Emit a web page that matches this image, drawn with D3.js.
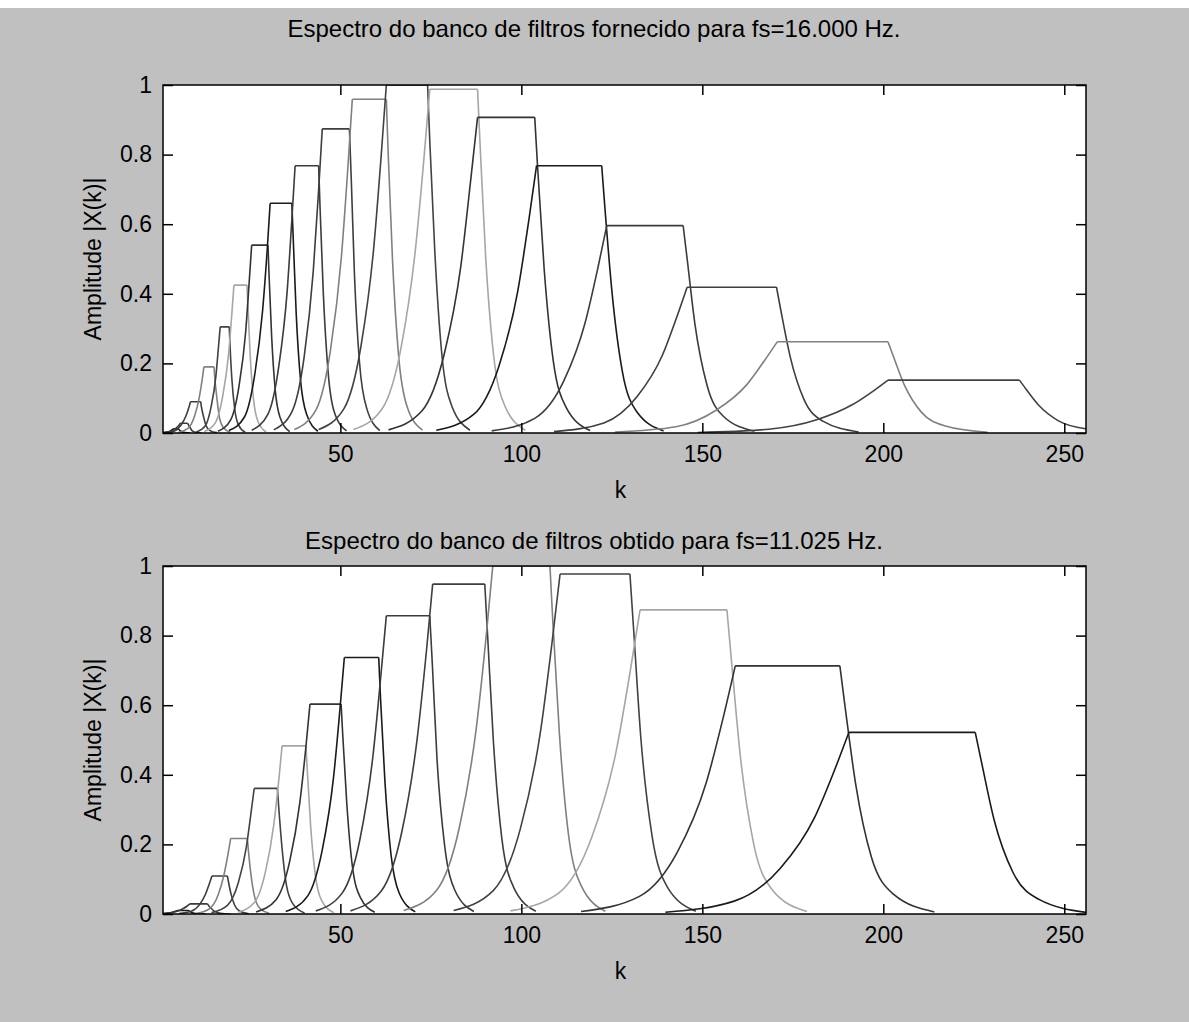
<!DOCTYPE html>
<html>
<head>
<meta charset="utf-8">
<script src="https://cdn.jsdelivr.net/npm/d3@7"></script>
<style>
  body { margin: 0; background: #c0c0c0; }
  text { font-family: "Liberation Sans", Arial, sans-serif; fill: #000; }
</style>
</head>
<body>
<div id="fig"></div>
<script>
// titles and tick labels
var titleTop = "Espectro do banco de filtros fornecido para fs=16.000 Hz.";
var titleBottom = "Espectro do banco de filtros obtido para fs=11.025 Hz.";
var yLabel = "Amplitude |X(k)|";
var xLabel = "k";
var xTicks = [50, 100, 150, 200, 250];
var yTicks = [0, 0.2, 0.4, 0.6, 0.8, 1];

// line colours, cycled like a plot() colour order (printed in gray)
var colorOrder = ["#1a1a1a", "#3c3c3c", "#3e3e3e", "#808080", "#424242", "#a6a6a6", "#333333"];

// filter spectra: [k, |X(k)|]
var filtersFornecido = [
  [[1.0,0.001],[2.2,0.003],[3.1,0.006],[3.6,0.010],[4.0,0.012],[5.2,0.012],[5.4,0.010],[5.8,0.006],[6.3,0.003],[7.1,0.001],[8.5,0]],
  [[1.0,0.0005],[2.1,0.002],[3.6,0.007],[4.7,0.015],[5.4,0.022],[5.8,0.028],[7.8,0.028],[8.0,0.024],[8.5,0.015],[9.1,0.006],[10.0,0.002],[11.7,0]],
  [[1.6,0.001],[4.2,0.006],[6.0,0.023],[7.3,0.048],[8.1,0.072],[8.6,0.09],[11.4,0.09],[11.6,0.076],[12.2,0.047],[12.9,0.021],[14.0,0.007],[15.9,0.001]],
  [[5.3,0.002],[7.9,0.013],[9.7,0.048],[11.0,0.101],[11.8,0.152],[12.3,0.19],[15.1,0.19],[15.3,0.160],[15.9,0.099],[16.6,0.044],[17.7,0.015],[19.6,0.002]],
  [[10.2,0.003],[12.7,0.021],[14.3,0.076],[15.6,0.162],[16.3,0.244],[16.8,0.305],[19.3,0.305],[19.5,0.256],[20.0,0.159],[20.8,0.070],[21.8,0.024],[23.7,0.002]],
  [[12.4,0.004],[15.5,0.030],[17.5,0.106],[19.1,0.225],[20.0,0.34],[20.6,0.425],[24.2,0.425],[24.5,0.357],[25.1,0.221],[26.0,0.098],[27.2,0.034],[29.5,0.003]],
  [[16.2,0.005],[19.7,0.038],[22.0,0.135],[23.8,0.286],[24.8,0.432],[25.5,0.54],[30.0,0.54],[30.3,0.454],[31.0,0.281],[32.0,0.124],[33.4,0.043],[36.0,0.004]],
  [[19.2,0.007],[23.5,0.046],[26.3,0.165],[28.5,0.35],[29.8,0.528],[30.6,0.66],[36.6,0.66],[37.0,0.554],[37.8,0.343],[39.0,0.152],[40.7,0.053],[43.8,0.005]],
  [[25.5,0.008],[30.0,0.054],[33.0,0.192],[35.3,0.407],[36.6,0.614],[37.5,0.768],[44.0,0.768],[44.4,0.645],[45.3,0.399],[46.6,0.177],[48.3,0.061],[51.7,0.006]],
  [[31.6,0.009],[36.6,0.061],[40.0,0.219],[42.5,0.463],[44.0,0.699],[45.0,0.874],[52.5,0.874],[53.0,0.734],[53.9,0.454],[55.3,0.201],[57.3,0.070],[60.9,0.007]],
  [[37.3,0.010],[43.3,0.067],[47.3,0.240],[50.3,0.508],[52.1,0.767],[53.3,0.959],[62.7,0.959],[63.2,0.806],[64.4,0.499],[66.1,0.221],[68.4,0.077],[72.7,0.008]],
  [[44.0,0.01],[51.0,0.07],[55.7,0.25],[59.2,0.53],[61.3,0.8],[62.7,1.0],[74.1,1.0],[74.7,0.84],[76.1,0.52],[78.0,0.23],[80.7,0.08],[85.8,0.008]],
  [[53.6,0.010],[61.5,0.069],[66.8,0.247],[70.7,0.524],[73.1,0.790],[74.7,0.988],[87.9,0.988],[88.6,0.830],[90.1,0.514],[92.3,0.227],[95.4,0.079],[101.1,0.008]],
  [[63.3,0.009],[72.5,0.063],[78.7,0.227],[83.3,0.481],[86.0,0.726],[87.9,0.907],[103.7,0.907],[104.5,0.762],[106.3,0.472],[108.8,0.209],[112.4,0.073],[119.0,0.007]],
  [[76.5,0.008],[86.9,0.054],[93.8,0.192],[99.0,0.407],[102.1,0.614],[104.2,0.768],[122.2,0.768],[123.1,0.645],[125.1,0.399],[127.9,0.177],[131.9,0.061],[139.3,0.006]],
  [[91.8,0.006],[103.7,0.042],[111.7,0.149],[117.6,0.316],[121.2,0.477],[123.6,0.596],[144.7,0.596],[145.8,0.501],[148.0,0.310],[151.3,0.137],[155.8,0.048],[164.4,0.005]],
  [[109.0,0.004],[122.8,0.029],[132.0,0.105],[138.9,0.222],[143.0,0.335],[145.8,0.419],[170.5,0.419],[171.7,0.352],[174.3,0.218],[178.1,0.096],[183.3,0.034],[193.2,0.003]],
  [[125.9,0.003],[142.7,0.018],[153.9,0.066],[162.3,0.139],[167.3,0.21],[170.7,0.262],[201.3,0.262],[202.8,0.220],[205.9,0.136],[210.5,0.060],[216.9,0.021],[228.8,0.002]],
  [[148.7,0.0015],[168.4,0.011],[181.6,0.038],[191.4,0.081],[197.4,0.122],[201.3,0.152],[237.6,0.152],[239.3,0.128],[243.0,0.079],[248.4,0.035],[255.9,0.012],[269.6,0.001]]
];

var filtersObtido = [
  [[1.0,0.001],[2.2,0.0025],[3.6,0.0053],[4.45,0.008],[5.0,0.01],[8.0,0.01],[8.3,0.0084],[8.8,0.0052],[9.6,0.0023],[10.7,0.0008],[12.8,0]],
  [[1.0,0.001],[2.2,0.002],[4.7,0.007],[6.5,0.015],[7.7,0.023],[8.4,0.029],[13.3,0.029],[13.6,0.024],[14.4,0.015],[15.4,0.0067],[16.9,0.0023],[19.6,0.0002]],
  [[5.4,0.001],[8.8,0.0076],[11.1,0.027],[12.8,0.058],[13.8,0.087],[14.5,0.109],[18.8,0.109],[19.1,0.092],[19.8,0.057],[20.8,0.025],[22.1,0.0087],[24.7,0.0009]],
  [[10.3,0.002],[13.8,0.015],[16.2,0.054],[17.9,0.115],[19.0,0.174],[19.7,0.217],[24.3,0.217],[24.6,0.182],[25.3,0.113],[26.3,0.050],[27.7,0.017],[30.3,0.002]],
  [[14.4,0.004],[18.8,0.025],[21.8,0.090],[24.0,0.191],[25.3,0.289],[26.2,0.361],[32.6,0.361],[33.0,0.303],[33.9,0.188],[35.1,0.083],[36.9,0.029],[40.1,0.003]],
  [[21.7,0.005],[26.3,0.034],[29.3,0.121],[31.6,0.256],[33.0,0.386],[33.9,0.483],[40.5,0.483],[40.9,0.406],[41.8,0.251],[43.1,0.111],[44.8,0.039],[48.2,0.004]],
  [[26.7,0.006],[32.3,0.042],[36.0,0.151],[38.8,0.32],[40.5,0.482],[41.6,0.603],[50.2,0.603],[50.7,0.507],[51.8,0.314],[53.3,0.139],[55.5,0.048],[59.5,0.005]],
  [[34.9,0.007],[41.0,0.052],[45.0,0.184],[48.1,0.391],[49.9,0.59],[51.1,0.737],[60.6,0.737],[61.1,0.619],[62.3,0.383],[64.0,0.170],[66.3,0.059],[70.7,0.006]],
  [[43.2,0.009],[50.5,0.060],[55.4,0.214],[59.0,0.454],[61.2,0.686],[62.7,0.857],[74.7,0.857],[75.4,0.72],[76.7,0.446],[78.8,0.197],[81.6,0.069],[86.9,0.007]],
  [[52.8,0.009],[61.3,0.066],[67.0,0.237],[71.2,0.502],[73.8,0.758],[75.5,0.948],[89.9,0.948],[90.7,0.796],[92.3,0.493],[94.6,0.218],[97.9,0.076],[104.0,0.008]],
  [[67.5,0.01],[76.7,0.07],[82.9,0.25],[87.5,0.53],[90.3,0.8],[92.1,1.0],[107.9,1.0],[108.7,0.84],[110.5,0.52],[113.0,0.23],[116.6,0.08],[123.2,0.008]],
  [[81.3,0.01],[92.3,0.068],[99.7,0.244],[105.2,0.518],[108.5,0.782],[110.7,0.977],[130.0,0.977],[131.0,0.821],[133.0,0.508],[136.1,0.225],[140.3,0.078],[148.2,0.008]],
  [[97.0,0.009],[110.4,0.061],[119.4,0.219],[126.1,0.463],[130.1,0.699],[132.8,0.874],[156.8,0.874],[158.0,0.734],[160.5,0.454],[164.2,0.201],[169.3,0.070],[178.9,0.007]],
  [[116.5,0.007],[132.5,0.050],[143.1,0.178],[151.1,0.378],[155.9,0.570],[159.1,0.713],[188.0,0.713],[189.4,0.599],[192.4,0.371],[196.7,0.164],[202.8,0.057],[214.1,0.006]],
  [[139.8,0.005],[158.8,0.037],[171.5,0.131],[181.0,0.277],[186.7,0.418],[190.5,0.522],[225.4,0.522],[227.1,0.438],[230.6,0.271],[235.8,0.120],[243.0,0.042],[256.5,0.004]]
];

var width = 1189, height = 1022,
    axLeft = 163, axRight = 1086, axHeight = 348;

var svg = d3.select("#fig")
  .append("svg")
    .attr("width", width)
    .attr("height", height);

svg.append("rect")
  .attr("width", width).attr("height", height)
  .attr("fill", "#c0c0c0");
svg.append("rect")
  .attr("width", width).attr("height", 8)
  .attr("fill", "#ffffff");

var x = d3.scaleLinear().domain([1, 256]).range([axLeft, axRight]);

function drawPanel(top, title, titleY, filters, id) {
  var y = d3.scaleLinear().domain([0, 1]).range([top + axHeight, top]);
  var g = svg.append("g");

  g.append("rect")
    .attr("x", axLeft).attr("y", top)
    .attr("width", axRight - axLeft).attr("height", axHeight)
    .attr("fill", "#fff");

  g.append("clipPath").attr("id", id)
    .append("rect")
      .attr("x", axLeft).attr("y", top)
      .attr("width", axRight - axLeft).attr("height", axHeight);

  // skirts smooth, flat top straight with sharp corners
  var skirt = d3.line()
    .x(function(d) { return x(d[0]); })
    .y(function(d) { return y(d[1]); })
    .curve(d3.curveMonotoneX);
  var flat = d3.line()
    .x(function(d) { return x(d[0]); })
    .y(function(d) { return y(d[1]); });

  function filterPath(pts) {
    var peak = d3.max(pts, function(d) { return d[1]; });
    var i1 = pts.findIndex(function(d) { return d[1] === peak; });
    var i2 = i1;
    while (i2 + 1 < pts.length && pts[i2 + 1][1] === peak) i2++;
    return skirt(pts.slice(0, i1 + 1)) +
           flat(pts.slice(i1, i2 + 1)) +
           skirt(pts.slice(i2));
  }

  g.append("g")
    .attr("clip-path", "url(#" + id + ")")
    .selectAll("path")
    .data(filters)
    .enter()
    .append("path")
      .attr("d", filterPath)
      .attr("fill", "none")
      .attr("stroke", function(d, i) { return colorOrder[i % colorOrder.length]; })
      .attr("stroke-width", 1.6)
      .attr("stroke-linejoin", "round");

  // box ticks (inside), labels only left and bottom
  g.append("g")
    .attr("transform", "translate(" + axLeft + ",0)")
    .call(d3.axisLeft(y).tickValues(yTicks).tickSize(-10).tickPadding(11)
      .tickFormat(function(d) { return d === 0 || d === 1 ? d : d3.format(".1f")(d); }));
  g.append("g")
    .attr("transform", "translate(" + axRight + ",0)")
    .call(d3.axisRight(y).tickValues(yTicks).tickSize(-10).tickFormat(""));
  g.append("g")
    .attr("transform", "translate(0," + (top + axHeight) + ")")
    .call(d3.axisBottom(x).tickValues(xTicks).tickSize(-10).tickPadding(13));
  g.append("g")
    .attr("transform", "translate(0," + top + ")")
    .call(d3.axisTop(x).tickValues(xTicks).tickSize(-10).tickFormat(""));

  g.selectAll(".domain").remove();
  g.selectAll(".tick line").attr("stroke", "#000").attr("stroke-width", 1.5);
  g.selectAll(".tick text")
    .style("font-family", "'Liberation Sans', Arial, sans-serif")
    .style("font-size", "23px")
    .attr("fill", "#000");

  g.append("rect")
    .attr("x", axLeft).attr("y", top)
    .attr("width", axRight - axLeft).attr("height", axHeight)
    .attr("fill", "none")
    .attr("stroke", "#000")
    .attr("stroke-width", 1.5);

  g.append("text")
    .attr("x", 594).attr("y", titleY)
    .attr("text-anchor", "middle")
    .style("font-size", "24px")
    .text(title);

  g.append("text")
    .attr("transform", "translate(101," + (top + axHeight / 2) + ") rotate(-90)")
    .attr("text-anchor", "middle")
    .style("font-size", "23px")
    .text(yLabel);

  g.append("text")
    .attr("x", (axLeft + axRight) / 2 - 4).attr("y", top + axHeight + 65)
    .attr("text-anchor", "middle")
    .style("font-size", "23px")
    .text(xLabel);
}

drawPanel(85, titleTop, 37, filtersFornecido, "clipTop");
drawPanel(566, titleBottom, 549, filtersObtido, "clipBottom");
</script>
</body>
</html>
